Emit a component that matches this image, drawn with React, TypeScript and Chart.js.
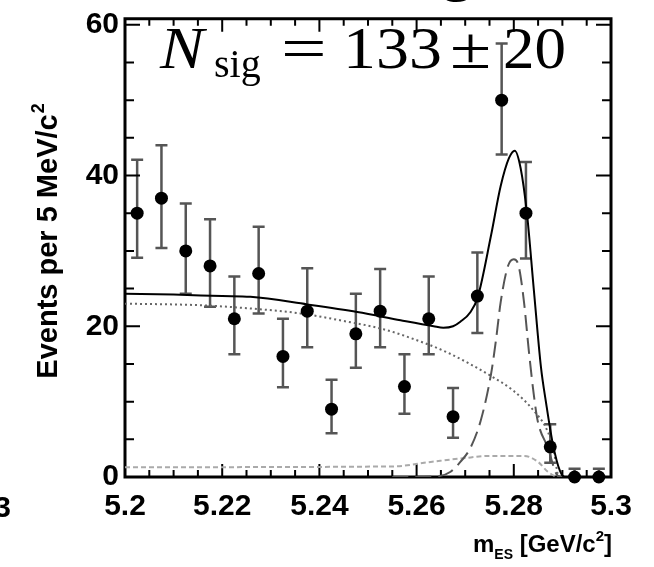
import React, { useEffect, useRef } from "react";
import { Chart, registerables } from "chart.js";

Chart.register(...registerables);

// ---- data ----
const binCenters = [5.2025, 5.2075, 5.2125, 5.2175, 5.2225, 5.2275, 5.2325, 5.2375, 5.2425, 5.2475, 5.2525, 5.2575, 5.2625, 5.2675, 5.2725, 5.2775, 5.2825, 5.2875, 5.2925, 5.2975];
const events = [35, 37, 30, 28, 21, 27, 16, 22, 9, 19, 22, 12, 21, 8, 24, 50, 35, 4, 0, 0];
const errHigh = [42.1, 44.0, 36.3, 34.2, 26.6, 33.2, 21.0, 27.7, 12.9, 24.3, 27.6, 16.3, 26.6, 11.8, 29.8, 57.5, 41.8, 7.0, 1.1, 1.1];
const errLow = [29.1, 30.4, 24.3, 22.6, 16.3, 21.7, 11.9, 17.2, 5.8, 14.5, 17.2, 8.4, 16.3, 5.2, 19.1, 42.8, 29.0, 1.9, 0, 0];

const totalX = [5.2, 5.21, 5.22, 5.2258, 5.2375, 5.2478, 5.2567, 5.2635, 5.2655, 5.2675, 5.269, 5.2711, 5.2726, 5.2753, 5.2773, 5.279, 5.2802, 5.2814, 5.2827, 5.2841, 5.2856, 5.2866, 5.288, 5.2895, 5.2905, 5.3];
const totalY = [24.3, 24.2, 24.0, 23.9, 22.9, 21.9, 20.8, 20.0, 19.8, 20.0, 20.6, 21.9, 23.9, 32.0, 38.6, 42.3, 43.3, 41.0, 35.0, 25.0, 14.5, 10.0, 4.5, 0.8, 0, 0];

const contX = [5.2, 5.215, 5.225, 5.2361, 5.245, 5.2532, 5.2594, 5.2664, 5.2753, 5.28, 5.2841, 5.287, 5.2882, 5.2893, 5.3];
const contY = [23.0, 22.8, 22.4, 21.7, 20.7, 19.6, 18.3, 16.5, 13.4, 11.4, 8.8, 6.0, 3.5, 0, 0];

const peakX = [5.2, 5.255, 5.2629, 5.2697, 5.2753, 5.2821, 5.285, 5.287, 5.2893, 5.3];
const peakY = [1.3, 1.4, 2.0, 2.5, 2.8, 2.8, 2.0, 0.7, 0, 0];

const sigX = [5.255, 5.2643, 5.267, 5.269, 5.2711, 5.2732, 5.2753, 5.2763, 5.2773, 5.2788, 5.28, 5.281, 5.2821, 5.2831, 5.2841, 5.2849, 5.287, 5.289, 5.29, 5.3];
const sigY = [0, 0.1, 0.7, 2.0, 3.9, 7.5, 13.6, 18, 23.2, 28, 28.9, 28, 23.2, 16.7, 11, 7.5, 3.9, 0.2, 0, 0];

const xTickValues = [5.2, 5.22, 5.24, 5.26, 5.28, 5.3];
const xTickLabels = ["5.2", "5.22", "5.24", "5.26", "5.28", "5.3"];
const yTickValues = [0, 20, 40, 60];
const yTickLabels = ["0", "20", "40", "60"];
const xMinorStep = 0.005;
const yMinorStep = 5;

const SANS = '"Liberation Sans", Arial, sans-serif';
const SERIF = '"Liberation Serif", "Times New Roman", serif';

const pts = (xs: number[], ys: number[]) => xs.map((x, i) => ({ x, y: ys[i] }));

const decor = {
  id: "decor",
  beforeDatasetsDraw(chart: any) {
    const ctx = chart.ctx;
    const xs = chart.scales.x;
    const ys = chart.scales.y;
    const { left, right, top, bottom } = chart.chartArea;
    ctx.save();
    // error bars
    ctx.strokeStyle = "#555";
    ctx.lineWidth = 2.5;
    for (let i = 0; i < binCenters.length; i++) {
      const px = xs.getPixelForValue(binCenters[i]);
      const yh = ys.getPixelForValue(errHigh[i]);
      const yl = ys.getPixelForValue(errLow[i]);
      ctx.beginPath();
      ctx.moveTo(px, yh);
      ctx.lineTo(px, yl);
      ctx.moveTo(px - 6, yh);
      ctx.lineTo(px + 6, yh);
      ctx.moveTo(px - 6, yl);
      ctx.lineTo(px + 6, yl);
      ctx.stroke();
    }
    // ticks
    ctx.strokeStyle = "#000";
    ctx.lineWidth = 2;
    const xmin = xs.min, xmax = xs.max;
    const nx = Math.round((xmax - xmin) / xMinorStep);
    for (let k = 0; k <= nx; k++) {
      const v = xmin + k * xMinorStep;
      const isMajor = xTickValues.some((t) => Math.abs(t - v) < 1e-6);
      const len = isMajor ? 13 : 7;
      const px = xs.getPixelForValue(v);
      ctx.beginPath();
      ctx.moveTo(px, bottom);
      ctx.lineTo(px, bottom - len);
      ctx.moveTo(px, top);
      ctx.lineTo(px, top + len);
      ctx.stroke();
    }
    for (let v = 0; v <= 60; v += yMinorStep) {
      const isMajor = yTickValues.includes(v);
      const len = isMajor ? 15 : 9;
      const py = ys.getPixelForValue(v);
      ctx.beginPath();
      ctx.moveTo(left, py);
      ctx.lineTo(left + len, py);
      ctx.moveTo(right, py);
      ctx.lineTo(right - len, py);
      ctx.stroke();
    }
    // frame
    ctx.lineWidth = 3;
    ctx.strokeRect(left, top, right - left, bottom - top);
    ctx.restore();
  },
  afterDraw(chart: any) {
    const ctx = chart.ctx;
    ctx.save();
    ctx.fillStyle = "#000";
    ctx.textBaseline = "alphabetic";
    ctx.textAlign = "left";

    // y axis title (rotated)
    ctx.save();
    ctx.translate(47, 241);
    ctx.rotate(-Math.PI / 2);
    ctx.font = `bold 29px ${SANS}`;
    const yMain = "Events per 5 MeV/c";
    const w1 = ctx.measureText(yMain).width;
    ctx.font = `bold 18px ${SANS}`;
    const w2 = ctx.measureText("2").width;
    const x0 = -(w1 + w2 + 1) / 2;
    ctx.font = `bold 29px ${SANS}`;
    ctx.fillText(yMain, x0, 10);
    ctx.font = `bold 18px ${SANS}`;
    ctx.fillText("2", x0 + w1 + 1, -3);
    ctx.restore();

    // x axis title with subscript/superscript
    const rightEdge = 612;
    const base = 552;
    const parts: [string, number, number][] = [
      ["m", 24, 0],
      ["ES", 14, 7],
      [" [GeV/c", 24, 0],
      ["2", 15, -11],
      ["]", 24, 0],
    ];
    const widths = parts.map(([t, s]) => {
      ctx.font = `bold ${s}px ${SANS}`;
      return ctx.measureText(t).width;
    });
    let xx = rightEdge - widths.reduce((a, b) => a + b, 0);
    parts.forEach(([t, s, dy], i) => {
      ctx.font = `bold ${s}px ${SANS}`;
      ctx.fillText(t, xx, base + dy);
      xx += widths[i];
    });

    // N_sig annotation
    const piece = (t: string, font: string, x: number, y: number, sx: number) => {
      ctx.save();
      ctx.translate(x, y);
      ctx.scale(sx, 1);
      ctx.font = font;
      ctx.fillText(t, 0, 0);
      ctx.restore();
    };
    piece("N", `italic 60px ${SERIF}`, 160, 68, 1.1);
    piece("sig", `40px ${SERIF}`, 214, 77, 1.0);
    piece("=", `60px ${SERIF}`, 281, 68, 1.35);
    piece("133", `60px ${SERIF}`, 343, 68, 1.1);
    piece("±", `60px ${SERIF}`, 450, 68, 1.25);
    piece("20", `60px ${SERIF}`, 503, 68, 1.05);

    // fragments of neighbouring content cut by the crop
    ctx.font = `bold 30px ${SANS}`;
    ctx.textAlign = "right";
    ctx.fillText("5.3", 11, 517);
    ctx.textAlign = "left";
    ctx.font = `bold 70px ${SANS}`;
    ctx.fillText("g", 436, -13);
    ctx.restore();
  },
};

export default function App() {
  const ref = useRef<HTMLCanvasElement>(null);
  useEffect(() => {
    document.body.style.margin = "0";
    const canvas = ref.current!;
    const lineBase = {
      showLine: true,
      pointRadius: 0,
      pointHoverRadius: 0,
      fill: false,
      cubicInterpolationMode: "monotone",
      borderWidth: 2,
    };
    const chart = new Chart(canvas, {
      type: "scatter",
      data: {
        datasets: [
          {
            label: "data",
            data: pts(binCenters, events),
            pointRadius: 6.5,
            pointBackgroundColor: "#000",
            pointBorderColor: "#000",
            pointBorderWidth: 0,
            showLine: false,
            clip: false,
          } as any,
          { label: "total", data: pts(totalX, totalY), borderColor: "#000", ...lineBase } as any,
          { label: "signal", data: pts(sigX, sigY), borderColor: "#555", borderDash: [16, 7], ...lineBase } as any,
          { label: "continuum", data: pts(contX, contY), borderColor: "#666", borderDash: [2, 3], ...lineBase } as any,
          { label: "peaking", data: pts(peakX, peakY), borderColor: "#aaa", borderDash: [5, 3], ...lineBase } as any,
        ],
      },
      options: {
        responsive: false,
        animation: false,
        devicePixelRatio: 1,
        events: [],
        layout: { padding: { top: 13, right: 43, left: 0, bottom: 0 } },
        plugins: { legend: { display: false }, tooltip: { enabled: false } },
        scales: {
          x: {
            type: "linear",
            min: 5.2,
            max: 5.3,
            grid: { display: false, drawTicks: false, tickLength: 0 },
            border: { display: false },
            afterBuildTicks: (s: any) => {
              s.ticks = xTickValues.map((v) => ({ value: v }));
            },
            afterFit: (s: any) => {
              s.height = 90;
            },
            ticks: {
              callback: (_v: any, i: number) => xTickLabels[i],
              font: { family: SANS, weight: "bold", size: 30, lineHeight: 1 },
              color: "#000",
              padding: 15,
              maxRotation: 0,
              autoSkip: false,
            },
          },
          y: {
            type: "linear",
            min: 0,
            max: 60.8,
            grid: { display: false, drawTicks: false, tickLength: 0 },
            border: { display: false },
            afterBuildTicks: (s: any) => {
              s.ticks = yTickValues.map((v) => ({ value: v }));
            },
            afterFit: (s: any) => {
              s.width = 125;
            },
            ticks: {
              callback: (_v: any, i: number) => yTickLabels[i],
              font: { family: SANS, weight: "bold", size: 30, lineHeight: 0.85 },
              color: "#000",
              padding: 6,
              autoSkip: false,
            },
          },
        },
      } as any,
      plugins: [decor],
    });
    return () => chart.destroy();
  }, []);
  return (
    <div style={{ width: 654, height: 567 }}>
      <canvas ref={ref} width={654} height={567} style={{ display: "block", width: 654, height: 567 }} />
    </div>
  );
}
